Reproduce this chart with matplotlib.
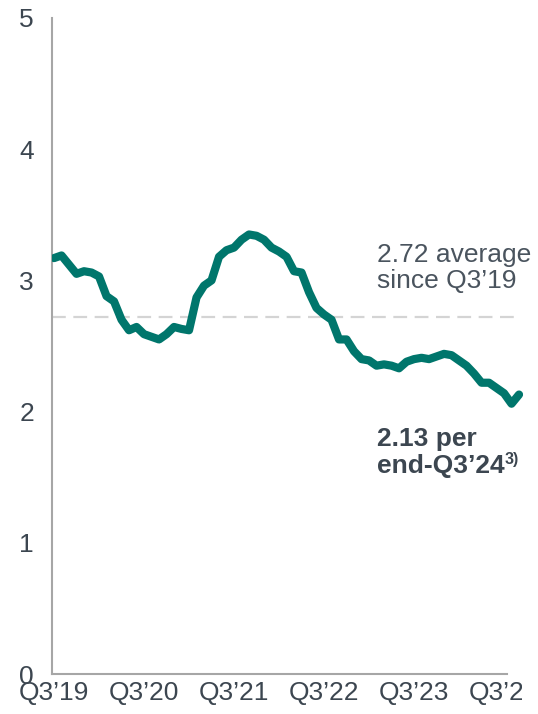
import matplotlib
matplotlib.use("Agg")
import matplotlib.pyplot as plt
from matplotlib.transforms import Bbox, TransformedBbox

plt.rcParams['font.family'] = ['Liberation Sans', 'DejaVu Sans']

# Monthly ratio, Jul 2019 .. Sep 2024
ratio = [3.17, 3.19, 3.12, 3.05, 3.07, 3.06, 3.03, 2.88, 2.84, 2.70,
         2.62, 2.645, 2.59, 2.57, 2.55, 2.59, 2.645, 2.63, 2.62, 2.87,
         2.96, 3.00, 3.18, 3.23, 3.25, 3.31, 3.35, 3.34, 3.31, 3.25,
         3.22, 3.18, 3.07, 3.06, 2.91, 2.79, 2.74, 2.70, 2.55, 2.55,
         2.46, 2.40, 2.39, 2.35, 2.36, 2.35, 2.33, 2.38, 2.40, 2.41,
         2.40, 2.42, 2.44, 2.43, 2.39, 2.35, 2.29, 2.22, 2.22, 2.18,
         2.14, 2.06, 2.13]
months = list(range(len(ratio)))

average = 2.72
tick_pos = [0, 12, 24, 36, 48, 60]
tick_labels = ["Q3’19", "Q3’20", "Q3’21", "Q3’22", "Q3’23", "Q3’24"]
y_ticks = [0, 1, 2, 3, 4, 5]

teal = "#00766c"
text_col = "#3c4650"
axis_col = "#a6a6a6"

fig = plt.figure(figsize=(5.38, 7.14), dpi=100)
ax = fig.add_axes([52 / 538, 40 / 714, 486 / 538, 656 / 714])

ax.plot(months, ratio, color=teal, lw=5.9, solid_joinstyle="round",
        solid_capstyle="round", zorder=3)
ax.plot([-0.27, 62.2], [average, average], color="#d4d4d4", lw=1.6,
        dashes=(6.2, 3.4), zorder=2)

ax.set_xlim(-0.27, 64.53)
ax.set_ylim(0, 5)

for side in ["top", "right"]:
    ax.spines[side].set_visible(False)
for side in ["left", "bottom"]:
    ax.spines[side].set_color(axis_col)
    ax.spines[side].set_linewidth(1.5)
ax.spines["bottom"].set_bounds(-0.27, 60.4)

ax.set_yticks(y_ticks)
ax.set_xticks(tick_pos)
ax.set_xticklabels(tick_labels)
ax.tick_params(axis="y", length=0, pad=13, labelsize=19, labelcolor=text_col)
ax.tick_params(axis="x", length=0, pad=5, labelsize=19, labelcolor=text_col)

# last quarter label runs off the right edge
clip = TransformedBbox(Bbox([[0, 0], [522 / 538, 1]]), fig.transFigure)
last = ax.get_xticklabels()[-1]
last.set_clip_box(clip)
last.set_clip_on(True)

ax.text(43.1, 3.095, "2.72 average\nsince Q3’19", ha="left", va="center",
        fontsize=19, color="#4a545e", linespacing=1.15)
note = ax.text(43.1, 1.69, "2.13 per\nend-Q3’24", ha="left", va="center",
               fontsize=19, fontweight="bold", color=text_col, linespacing=1.15)
ax.annotate("3)", xy=(1, 0.36), xycoords=note, ha="left", va="center",
            fontsize=11.5, fontweight="bold", color=text_col)

fig.savefig("out.png", dpi=100)
